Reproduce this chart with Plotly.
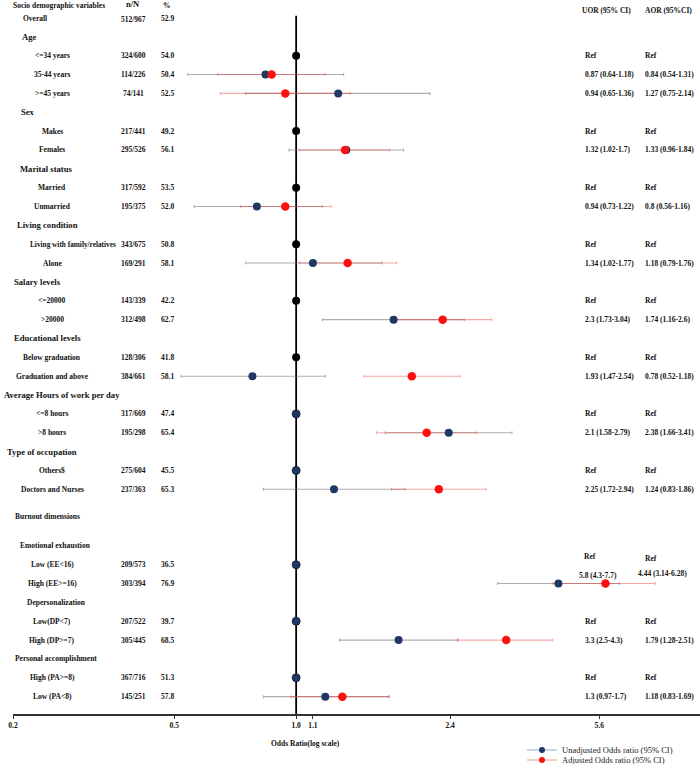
import plotly.graph_objects as go

# ---------------- data ----------------
row_labels = ["Overall", "Age", "<=34 years", "35-44 years", ">=45 years", "Sex", "Makes", "Females",
              "Marital status", "Married", "Unmarried", "Living condition", "Living with family/relatives",
              "Alone", "Salary levels", "<=20000", ">20000", "Educational levels", "Below graduation",
              "Graduation and above", "Average Hours of work per day", "<=8 hours", ">8 hours",
              "Type of occupation", "Others$", "Doctors and Nurses", "Burnout dimensions",
              "Emotional exhaustion", "Low (EE<16)", "High (EE>=16)", "Depersonalization", "Low(DP<7)",
              "High (DP>=7)", "Personal accomplishment", "High (PA>=8)", "Low (PA<8)"]
row_kind = ["overall", "section", "item", "item", "item", "section", "item", "item",
            "section", "item", "item", "section", "item", "item", "section", "item", "item",
            "section", "item", "item", "section", "item", "item", "section", "item", "item",
            "sub", "sub", "item", "item", "sub", "item", "item", "sub", "item", "item"]
n_over_N = ["512/967", "", "324/600", "114/226", "74/141", "", "217/441", "295/526", "", "317/592", "195/375",
            "", "343/675", "169/291", "", "143/339", "312/498", "", "128/306", "384/661", "", "317/669",
            "195/298", "", "275/604", "237/363", "", "", "209/573", "303/394", "", "207/522", "305/445",
            "", "367/716", "145/251"]
pct = ["52.9", "", "54.0", "50.4", "52.5", "", "49.2", "56.1", "", "53.5", "52.0", "", "50.8", "58.1", "",
       "42.2", "62.7", "", "41.8", "58.1", "", "47.4", "65.4", "", "45.5", "65.3", "", "", "36.5", "76.9",
       "", "39.7", "68.5", "", "51.3", "57.8"]
uor_text = ["", "", "Ref", "0.87 (0.64-1.18)", "0.94 (0.65-1.36)", "", "Ref", "1.32 (1.02-1.7)", "", "Ref",
            "0.94 (0.73-1.22)", "", "Ref", "1.34 (1.02-1.77)", "", "Ref", "2.3 (1.73-3.04)", "", "Ref",
            "1.93 (1.47-2.54)", "", "Ref", "2.1 (1.58-2.79)", "", "Ref", "2.25 (1.72-2.94)", "", "", "Ref",
            "5.8 (4.3-7.7)", "", "Ref", "3.3 (2.5-4.3)", "", "Ref", "1.3 (0.97-1.7)"]
aor_text = ["", "", "Ref", "0.84 (0.54-1.31)", "1.27 (0.75-2.14)", "", "Ref", "1.33 (0.96-1.84)", "", "Ref",
            "0.8 (0.56-1.16)", "", "Ref", "1.18 (0.79-1.76)", "", "Ref", "1.74 (1.16-2.6)", "", "Ref",
            "0.78 (0.52-1.18)", "", "Ref", "2.38 (1.66-3.41)", "", "Ref", "1.24 (0.83-1.86)", "", "", "Ref",
            "4.44 (3.14-6.28)", "", "Ref", "1.79 (1.28-2.51)", "", "Ref", "1.18 (0.83-1.69)"]

cmp_rows = ["35-44 years", ">=45 years", "Females", "Unmarried", "Alone", ">20000", "Graduation and above",
            ">8 hours", "Doctors and Nurses", "High (EE>=16)", "High (DP>=7)", "Low (PA<8)"]
red_or = [0.87, 0.94, 1.32, 0.94, 1.34, 2.3, 1.93, 2.1, 2.25, 5.8, 3.3, 1.3]
red_lo = [0.64, 0.65, 1.02, 0.73, 1.02, 1.73, 1.47, 1.58, 1.72, 4.3, 2.5, 0.97]
red_hi = [1.18, 1.36, 1.7, 1.22, 1.77, 3.04, 2.54, 2.79, 2.94, 7.7, 4.3, 1.7]
navy_or = [0.84, 1.27, 1.33, 0.8, 1.1, 1.74, 0.78, 2.38, 1.24, 4.44, 1.79, 1.18]
navy_lo = [0.54, 0.75, 0.96, 0.56, 0.75, 1.16, 0.52, 1.66, 0.83, 3.14, 1.28, 0.83]
navy_hi = [1.31, 2.14, 1.84, 1.16, 1.63, 2.6, 1.18, 3.41, 1.86, 6.28, 2.51, 1.69]

ref_black_rows = ["<=34 years", "Makes", "Married", "Living with family/relatives", "<=20000", "Below graduation"]
ref_navy_rows = ["<=8 hours", "Others$", "Low (EE<16)", "Low(DP<7)", "High (PA>=8)"]
ref_value = 1.0

tick_vals = [0.2, 0.5, 1.0, 1.1, 2.4, 5.6]
tick_text = ["0.2", "0.5", "1.0", "1.1", "2.4", "5.6"]

# ---------------- layout helpers ----------------
W, H = 700, 764
ML, MR, MT, MB = 13, 0, 0, 50
PW = W - ML - MR
FONT = "Liberation Serif"
NAVY = "#1f3864"
RED = "#ff1010"


def px(xp):
    return (xp - ML) / PW


# vertical row positions (index units); extra spacing around the burnout block
ypos = {}
for i, lab in enumerate(row_labels):
    if i < 26:
        ypos[lab] = i
    elif i == 26:
        ypos[lab] = i + 0.45
    else:
        ypos[lab] = i + 1.0

Y_TOP, Y_BOT = -0.955, 36.92

fig = go.Figure()

yc = [ypos[r] for r in cmp_rows]
fig.add_trace(go.Scatter(
    x=navy_or, y=yc, mode="markers", showlegend=False,
    marker=dict(size=0.1, color="rgba(0,0,0,0)"),
    error_x=dict(type="data", symmetric=False,
                 array=[h - v for h, v in zip(navy_hi, navy_or)],
                 arrayminus=[v - l for v, l in zip(navy_or, navy_lo)],
                 color="rgba(120,120,120,0.6)", thickness=1.1, width=1.5)))
fig.add_trace(go.Scatter(
    x=red_or, y=yc, mode="markers", showlegend=False,
    marker=dict(size=0.1, color="rgba(0,0,0,0)"),
    error_x=dict(type="data", symmetric=False,
                 array=[h - v for h, v in zip(red_hi, red_or)],
                 arrayminus=[v - l for v, l in zip(red_or, red_lo)],
                 color="rgba(235,60,60,0.45)", thickness=1.1, width=1.5)))

fig.add_trace(go.Scatter(
    x=[ref_value] * len(ref_black_rows), y=[ypos[r] for r in ref_black_rows], mode="markers",
    showlegend=False, marker=dict(size=8, color="black")))
fig.add_trace(go.Scatter(
    x=[ref_value] * len(ref_navy_rows), y=[ypos[r] for r in ref_navy_rows], mode="markers",
    showlegend=False, marker=dict(size=8, color=NAVY, line=dict(color="#0a1530", width=0.8))))
fig.add_trace(go.Scatter(
    x=navy_or, y=yc, mode="markers", showlegend=False,
    marker=dict(size=8, color=NAVY)))
fig.add_trace(go.Scatter(
    x=red_or, y=yc, mode="markers", showlegend=False,
    marker=dict(size=8.5, color=RED)))

# legend entries (two single-item legends so they can sit close together)
fig.add_trace(go.Scatter(x=[None], y=[None], mode="lines+markers", name="Unadjusted Odds ratio (95% CI)",
                         marker=dict(size=6, color=NAVY), line=dict(color="#8eaadb", width=1.2),
                         legend="legend"))
fig.add_trace(go.Scatter(x=[None], y=[None], mode="lines+markers", name="Adjusted Odds ratio (95% CI)",
                         marker=dict(size=6, color=RED), line=dict(color="#dca08e", width=1.2),
                         legend="legend2"))

fig.add_shape(type="line", xref="x", yref="y", x0=ref_value, x1=ref_value, y0=-0.12, y1=Y_BOT,
              line=dict(color="black", width=1.8), layer="below")

ann = []


def txt(text, xp, y, size=7.5, anchor="center", bold=True):
    ann.append(dict(text=text, x=px(xp), xref="paper", y=y, yref="y", showarrow=False,
                    xanchor=anchor, yanchor="middle",
                    font=dict(family=FONT, size=size, color="#111", weight="bold" if bold else "normal")))


txt("Socio demographic variables", 11, -0.69, 7.5, "left")
txt("n/N", 133, -0.72, 8.5)
txt("%", 167, -0.69, 7.5)
txt("UOR (95% CI)", 580, -0.42, 7.5, "left")
txt("AOR (95%CI)", 643, -0.42, 7.5, "left")

section_x = {"Overall": 21, "Age": 20, "Sex": 19, "Marital status": 18, "Living condition": 15,
             "Salary levels": 12, "Educational levels": 12, "Average Hours of work per day": 2,
             "Type of occupation": 5, "Burnout dimensions": 13, "Emotional exhaustion": 18,
             "Depersonalization": 25, "Personal accomplishment": 13}

for i, lab in enumerate(row_labels):
    y = ypos[lab]
    k = row_kind[i]
    if k == "section":
        txt(lab, section_x[lab], y, 8.6, "left")
    elif k in ("overall", "sub"):
        txt(lab, section_x[lab], y, 7.5, "left")
    else:
        if lab == "Living with family/relatives":
            txt(lab, 28, y, 7.3, "left")
        else:
            txt(lab, 52, y, 7.5)
    if n_over_N[i]:
        txt(n_over_N[i], 133, y + (0.08 if k == "overall" else 0))
    if pct[i]:
        txt(pct[i], 167, y)
    if uor_text[i]:
        if lab == "Low (EE<16)":
            txt(uor_text[i], 582, y - 0.41, 7.5, "left")
            txt(aor_text[i], 643, y - 0.35, 7.5, "left")
        elif lab == "High (EE>=16)":
            txt(uor_text[i], 577, y - 0.45, 7.5, "left")
            txt(aor_text[i], 636, y - 0.52, 7.5, "left")
        else:
            txt(uor_text[i], 583, y, 7.5, "left")
            txt(aor_text[i], 643, y, 7.5, "left")

ann.append(dict(text="Odds Ratio(log scale)", x=px(305), xref="paper", y=-29 / 714, yref="paper",
                showarrow=False, xanchor="center", yanchor="middle",
                font=dict(family=FONT, size=7.5, color="#111", weight="bold")))

legend_common = dict(xref="container", yref="container", xanchor="left", yanchor="middle",
                     bgcolor="rgba(0,0,0,0)", font=dict(family=FONT, size=8.5, color="#222"),
                     itemwidth=30)

fig.update_layout(
    width=W, height=H, margin=dict(l=ML, r=MR, t=MT, b=MB, autoexpand=False),
    plot_bgcolor="white", paper_bgcolor="white",
    annotations=ann,
    xaxis=dict(type="log", range=[-0.69897, 0.9969], tickvals=tick_vals, ticktext=tick_text,
               tickangle=0, showgrid=False, zeroline=False, showline=True, linecolor="#333",
               linewidth=1.5, ticks="outside", ticklen=3, tickcolor="#333", tickwidth=1,
               tickfont=dict(family=FONT, size=7.5, color="#111", weight="bold")),
    yaxis=dict(range=[Y_BOT, Y_TOP], visible=False, showgrid=False, zeroline=False),
    showlegend=True,
    legend=dict(x=522 / W, y=1 - 750 / H, **legend_common),
    legend2=dict(x=522 / W, y=1 - 760 / H, **legend_common),
)

fig.write_html("out.html", config={"displayModeBar": False},
               post_script="document.body.style.margin='0';")
